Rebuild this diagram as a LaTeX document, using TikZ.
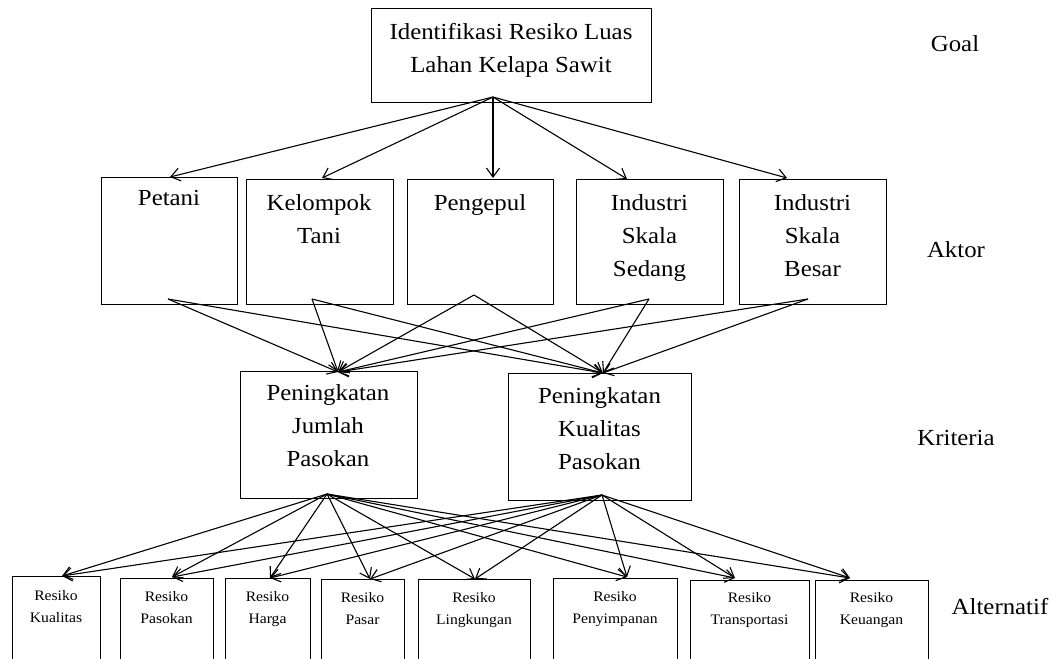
\documentclass[tikz,border=0pt]{standalone}
\usepackage{fontspec}
\setmainfont{Liberation Serif}[FakeStretch=1.08]
\usetikzlibrary{arrows.meta}
\begin{document}
\begin{tikzpicture}[x=1pt,y=-1pt,
  box/.style={draw, line width=1.3pt, inner sep=0pt, anchor=north west},
  big/.style={font=\fontsize{23}{33}\selectfont, align=center, inner sep=0pt, anchor=north},
  small/.style={font=\fontsize{14.5}{22}\selectfont, align=center, inner sep=0pt, anchor=north},
  lev/.style={font=\fontsize{23}{28}\selectfont, inner sep=0pt, anchor=base},
  arr/.style={-{Straight Barb[length=9pt,width=13pt]}, line width=1.1pt}]
\clip (0,0) rectangle (1059,658);
\fill[white] (0,0) rectangle (1059,658);
% boxes
\node[box, minimum width=280pt, minimum height=94pt] (goal) at (371,8) {};
\node[box, minimum width=136pt, minimum height=127pt] (petani) at (101,177) {};
\node[box, minimum width=147pt, minimum height=125pt] (kelompok) at (246,179) {};
\node[box, minimum width=146pt, minimum height=125pt] (pengepul) at (407,179) {};
\node[box, minimum width=147pt, minimum height=125pt] (sedang) at (576,179) {};
\node[box, minimum width=147pt, minimum height=125pt] (besar) at (739,179) {};
\node[box, minimum width=177pt, minimum height=127pt] (jumlah) at (240,371) {};
\node[box, minimum width=183pt, minimum height=127pt] (kualitas) at (508,373) {};
\node[box, minimum width=88pt, minimum height=120pt] (a1) at (12,576) {};
\node[box, minimum width=93pt, minimum height=120pt] (a2) at (120,578) {};
\node[box, minimum width=85pt, minimum height=120pt] (a3) at (225,578) {};
\node[box, minimum width=83pt, minimum height=120pt] (a4) at (321,579) {};
\node[box, minimum width=112pt, minimum height=120pt] (a5) at (418,579) {};
\node[box, minimum width=124pt, minimum height=120pt] (a6) at (553,578) {};
\node[box, minimum width=119pt, minimum height=120pt] (a7) at (690,580) {};
\node[box, minimum width=113pt, minimum height=120pt] (a8) at (815,580) {};
% texts
\node[big] (goal-t) at (511,23) {Identifikasi Resiko Luas\\Lahan Kelapa Sawit};
\node[big] (petani-t) at (169,190) {Petani};
\node[big] (kelompok-t) at (319,194) {Kelompok\\Tani};
\node[big] (pengepul-t) at (480,194) {Pengepul};
\node[big] (sedang-t) at (649.5,194) {Industri\\Skala\\Sedang};
\node[big] (besar-t) at (812.5,194) {Industri\\Skala\\Besar};
\node[big] (jumlah-t) at (328,384) {Peningkatan\\Jumlah\\Pasokan};
\node[big] (kualitas-t) at (599.5,387) {Peningkatan\\Kualitas\\Pasokan};
\node[small] (a1-t) at (56,590) {Resiko\\Kualitas};
\node[small] (a2-t) at (166.5,591) {Resiko\\Pasokan};
\node[small] (a3-t) at (267.5,591) {Resiko\\Harga};
\node[small] (a4-t) at (362.5,592) {Resiko\\Pasar};
\node[small] (a5-t) at (474,592) {Resiko\\Lingkungan};
\node[small] (a6-t) at (615,591) {Resiko\\Penyimpanan};
\node[small] (a7-t) at (749.5,592) {Resiko\\Transportasi};
\node[small] (a8-t) at (871.5,592) {Resiko\\Keuangan};
% level labels
\node[lev] (l-goal) at (955,52) {Goal};
\node[lev] (l-aktor) at (956,257) {Aktor};
\node[lev] (l-krit) at (956,445) {Kriteria};
\node[lev] (l-alt) at (1000,614) {Alternatif};
% connector end points
\coordinate (goal-o) at (493,97);
\coordinate (petani-i) at (170,177);
\coordinate (kelompok-i) at (322,178);
\coordinate (pengepul-i) at (493,178);
\coordinate (sedang-i) at (627,179);
\coordinate (besar-i) at (787,178);
\coordinate (petani-o) at (168,299);
\coordinate (kelompok-o) at (312,299);
\coordinate (pengepul-o) at (474,295);
\coordinate (sedang-o) at (649,299);
\coordinate (besar-o) at (808,299);
\coordinate (jumlah-i) at (338,372);
\coordinate (kualitas-i) at (603,373);
\coordinate (jumlah-o) at (327,494);
\coordinate (kualitas-o) at (602,495);
\coordinate (a1-i) at (62,576);
\coordinate (a2-i) at (172,577);
\coordinate (a3-i) at (270,578);
\coordinate (a4-i) at (370,579);
\coordinate (a5-i) at (475,579);
\coordinate (a6-i) at (627,577);
\coordinate (a7-i) at (735,578);
\coordinate (a8-i) at (850,578);
% connectors
\foreach \t in {petani,kelompok,pengepul,sedang,besar}
  \draw[arr] (goal-o) -- (\t-i);
\foreach \s in {petani,kelompok,pengepul,sedang,besar}{
  \draw[arr] (\s-o) -- (jumlah-i);
  \draw[arr] (\s-o) -- (kualitas-i);
}
\foreach \a in {a1,a2,a3,a4,a5,a6,a7,a8}{
  \draw[arr] (jumlah-o) -- (\a-i);
  \draw[arr] (kualitas-o) -- (\a-i);
}
\end{tikzpicture}
\end{document}
